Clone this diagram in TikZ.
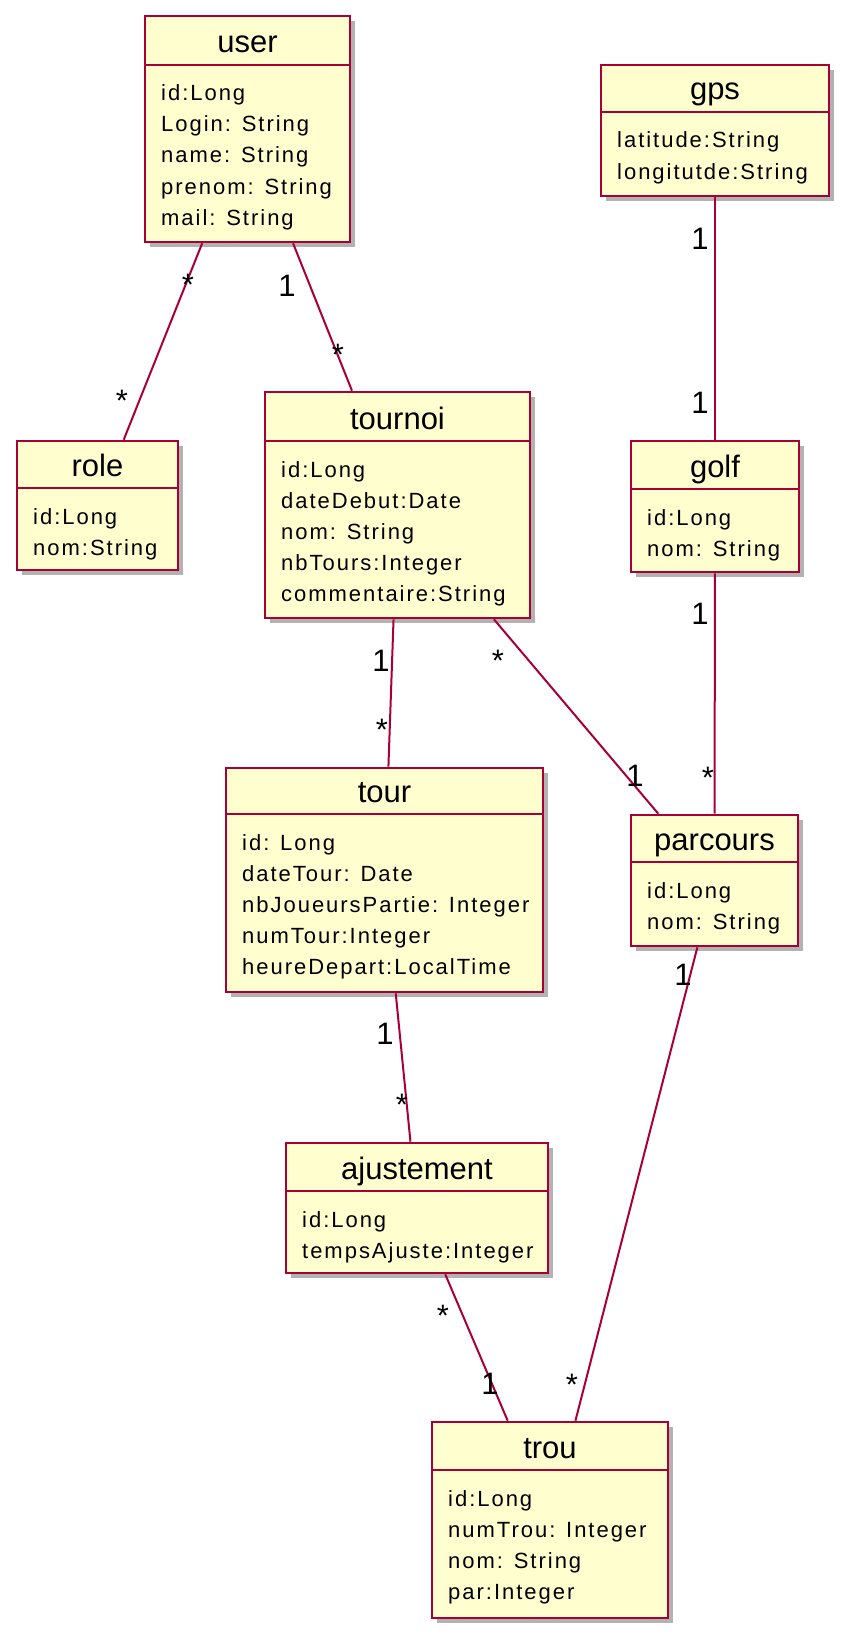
\documentclass[tikz,border=0pt]{standalone}
\usepackage{fontspec}
\setmainfont{Liberation Sans}
\newfontfamily\attrfont[LetterSpace=9]{Liberation Sans}
\usepackage{tikz}
\usetikzlibrary{fit}
\usetikzlibrary{shadows}
\definecolor{umlred}{HTML}{A80036}
\definecolor{umlfill}{HTML}{FEFECE}

\begin{document}
\begin{tikzpicture}[x=1pt, y=-1pt,
    classbox/.style={draw=umlred, fill=umlfill, line width=2.6pt, inner sep=0pt,
        drop shadow={shadow xshift=5pt, shadow yshift=-5pt, fill=black, opacity=0.3}},
    headrule/.style={umlred, line width=2pt},
    cname/.style={anchor=base, inner sep=0pt, font=\fontsize{31}{31}\selectfont},
    attr/.style={anchor=base west, inner sep=0pt, font=\attrfont\fontsize{22}{22}\selectfont},
    assoc/.style={umlred, line width=2pt},
    mult/.style={anchor=base, inner sep=0pt, font=\fontsize{31}{31}\selectfont}]
        \useasboundingbox (0,0) rectangle (861,1648);
        % classes
        \node[classbox, fit={(145,16) (350,242)}] (user) {};
        \draw[headrule] (145,65) -- (350,65);
        \node[cname] (user-name) at (247.5,53) {user};
        \foreach \a [count=\i] in {id:Long, Login: String, name: String, prenom: String, mail: String}
            \node[attr] (user-\i) at (161,{101+31*(\i-1)}) {\a};

        \node[classbox, fit={(601,65) (829,196)}] (gps) {};
        \draw[headrule] (601,112) -- (829,112);
        \node[cname] (gps-name) at (715,100) {gps};
        \foreach \a [count=\i] in {latitude:String, longitutde:String}
            \node[attr] (gps-\i) at (617,{148+31*(\i-1)}) {\a};

        \node[classbox, fit={(17,441) (178,570)}] (role) {};
        \draw[headrule] (17,488) -- (178,488);
        \node[cname] (role-name) at (97.5,476) {role};
        \foreach \a [count=\i] in {id:Long, nom:String}
            \node[attr] (role-\i) at (33,{524+31*(\i-1)}) {\a};

        \node[classbox, fit={(265,392) (530,618)}] (tournoi) {};
        \draw[headrule] (265,441) -- (530,441);
        \node[cname] (tournoi-name) at (397.5,429) {tournoi};
        \foreach \a [count=\i] in {id:Long, dateDebut:Date, nom: String, nbTours:Integer, commentaire:String}
            \node[attr] (tournoi-\i) at (281,{477+31*(\i-1)}) {\a};

        \node[classbox, fit={(631,441) (799,572)}] (golf) {};
        \draw[headrule] (631,489) -- (799,489);
        \node[cname] (golf-name) at (715,477) {golf};
        \foreach \a [count=\i] in {id:Long, nom: String}
            \node[attr] (golf-\i) at (647,{525+31*(\i-1)}) {\a};

        \node[classbox, fit={(226,768) (543,992)}] (tour) {};
        \draw[headrule] (226,814) -- (543,814);
        \node[cname] (tour-name) at (384.5,802) {tour};
        \foreach \a [count=\i] in {id: Long, dateTour: Date, nbJoueursPartie: Integer, numTour:Integer, heureDepart:LocalTime}
            \node[attr] (tour-\i) at (242,{850+31*(\i-1)}) {\a};

        \node[classbox, fit={(631,815) (798,946)}] (parcours) {};
        \draw[headrule] (631,862) -- (798,862);
        \node[cname] (parcours-name) at (714.5,850) {parcours};
        \foreach \a [count=\i] in {id:Long, nom: String}
            \node[attr] (parcours-\i) at (647,{898+31*(\i-1)}) {\a};

        \node[classbox, fit={(286,1143) (548,1273)}] (ajustement) {};
        \draw[headrule] (286,1191) -- (548,1191);
        \node[cname] (ajustement-name) at (417,1179) {ajustement};
        \foreach \a [count=\i] in {id:Long, tempsAjuste:Integer}
            \node[attr] (ajustement-\i) at (302,{1227+31*(\i-1)}) {\a};

        \node[classbox, fit={(432,1422) (668,1618)}] (trou) {};
        \draw[headrule] (432,1470) -- (668,1470);
        \node[cname] (trou-name) at (550,1458) {trou};
        \foreach \a [count=\i] in {id:Long, numTrou: Integer, nom: String, par:Integer}
            \node[attr] (trou-\i) at (448,{1506+31*(\i-1)}) {\a};

        % associations
        \draw[assoc] (user) -- (role);
        \draw[assoc] (user) -- (tournoi);
        \draw[assoc] (gps) -- (golf);
        \draw[assoc] (golf) -- (parcours);
        \draw[assoc] (tournoi) -- (tour);
        \draw[assoc] (tournoi) -- (parcours);
        \draw[assoc] (tour) -- (ajustement);
        \draw[assoc] (parcours) -- (trou);
        \draw[assoc] (ajustement) -- (trou);

        % multiplicities
        \node[mult] (m-ur-1) at (188,295) {*};
        \node[mult] (m-ur-2) at (122,411) {*};
        \node[mult] (m-ut-1) at (287,296) {1};
        \node[mult] (m-ut-2) at (338,365) {*};
        \node[mult] (m-gg-1) at (700,249) {1};
        \node[mult] (m-gg-2) at (700,413) {1};
        \node[mult] (m-gp-1) at (700,624) {1};
        \node[mult] (m-gp-2) at (708,788) {*};
        \node[mult] (m-tt-1) at (381,671) {1};
        \node[mult] (m-tt-2) at (382,740) {*};
        \node[mult] (m-tp-1) at (498,671) {*};
        \node[mult] (m-tp-2) at (635,786) {1};
        \node[mult] (m-ta-1) at (385,1044) {1};
        \node[mult] (m-ta-2) at (402,1115) {*};
        \node[mult] (m-pt-1) at (683,985) {1};
        \node[mult] (m-pt-2) at (572,1395) {*};
        \node[mult] (m-at-1) at (443,1326) {*};
        \node[mult] (m-at-2) at (490,1394) {1};
    \end{tikzpicture}
\end{document}
